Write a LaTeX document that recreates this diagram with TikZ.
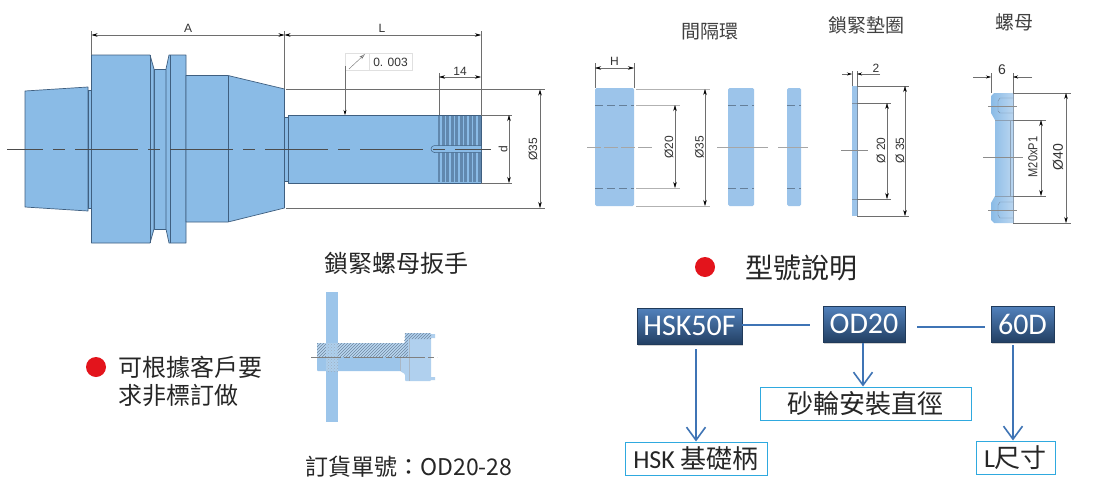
\documentclass[tikz,border=0pt]{standalone}
\usepackage{fontspec}
\setmainfont{Liberation Sans}
\newfontfamily\cjkfont{Noto Sans CJK TC}
\newfontfamily\carlito{Carlito}
\usetikzlibrary{arrows.meta,patterns,shadows}
\definecolor{bodyblue}{HTML}{8ABBE6}
\definecolor{ringblue}{HTML}{9CC4EA}
\definecolor{edgeblue}{HTML}{3F5F80}
\definecolor{flowblue}{HTML}{3F74B5}
\definecolor{cyanbox}{HTML}{2FA9DF}
\definecolor{dimgrey}{HTML}{6E6E6E}
\definecolor{dotred}{HTML}{E3141C}
\tikzset{
	part/.style={fill=bodyblue,draw=edgeblue,line width=0.7pt,line join=round},
	ring/.style={fill=ringblue,draw=none,rounded corners=1.5pt},
	inner/.style={draw=edgeblue,line width=0.5pt},
	centre/.style={draw=black!70,line width=0.5pt,dash pattern=on 63pt off 10pt on 12pt off 10pt,dash phase=27pt},
	hidden/.style={draw=edgeblue!80,line width=0.5pt,dash pattern=on 8pt off 4pt},
	ext/.style={draw=dimgrey,line width=0.5pt},
	dimen/.style={draw=dimgrey,line width=0.5pt,{Stealth[black,length=6pt,width=3.5pt]}-{Stealth[black,length=6pt,width=3.5pt]}},
	oneway/.style={draw=dimgrey,line width=0.4pt,-{Stealth[black,length=5pt,width=3pt]}},
	dimtxt/.style={font=\fontsize{12}{14}\selectfont,text=black!80,inner sep=0},
	title/.style={font=\cjkfont\fontsize{19}{22}\selectfont,text=black!75,inner sep=0},
	note/.style={font=\cjkfont\fontsize{24}{28}\selectfont,text=black!85,inner sep=0},
	modelbox/.style={font=\carlito\fontsize{30}{34}\selectfont,text=white,inner sep=0,
		top color=flowblue!90!white,bottom color=flowblue!55!black,draw=flowblue!50!black,
		drop shadow={shadow xshift=1pt,shadow yshift=-2pt,fill=black!35}},
	meanbox/.style={draw=cyanbox,line width=1pt,fill=white,inner sep=0,text=black!85,
		font=\cjkfont\fontsize{26}{30}\selectfont},
	flow/.style={draw=flowblue,line width=1.6pt},
	flowarrow/.style={flow,-{Straight Barb[length=13pt,width=19pt,line width=1.6pt]}}
}
\begin{document}
\begin{tikzpicture}[x=1pt,y=-1pt]
\useasboundingbox[fill=white] (0,0) rectangle (1100,490);

\draw[part] (25,91) -- (88,87) -- (88,211) -- (25,207) -- cycle;
\draw[part] (88,90) rectangle (91.5,208);
\draw[part] (154,69) rectangle (166,229);
\draw[part] (91.5,55) -- (150,55) -- (154,69) -- (154,229) -- (150,243) -- (91.5,243) -- cycle;
\draw[part] (169,55) -- (186,55) -- (186,243) -- (169,243) -- (166,229) -- (166,69) -- cycle;
\draw[part] (186,75.5) -- (228,75.5) -- (284.5,89) -- (284.5,208) -- (228,222) -- (186,222) -- cycle;
\draw[part] (284.5,117) rectangle (288,181);
\draw[part] (288,115) rectangle (481,183);
\draw[inner] (150,55) -- (150,243) (170,55) -- (170,243) (228,75.5) -- (228,222);
\fill[edgeblue!55!bodyblue] (438,116) rectangle (481,182);
\foreach \kx in {441,445.5,...,479}
	\draw[bodyblue,line width=1.8pt] (\kx,116) -- (\kx,182);
\draw[fill=bodyblue,draw=edgeblue,line width=0.5pt,rounded corners=3.5pt] (481,145.5) -- (431,145.5) -- (431,152.5) -- (481,152.5);
\draw[centre] (7,149) -- (491,149);

\draw[ext] (91.5,31) -- (91.5,55) (284.5,31) -- (284.5,89) (481,31) -- (481,115) (439,73) -- (439,115);
\draw[ext] (286,89.5) -- (545,89.5) (286,208) -- (545,208) (481,115) -- (512,115) (481,183) -- (512,183);
\draw[dimen] (91.5,35) -- (284.5,35);
\draw[dimen] (284.5,35) -- (481,35);
\draw[dimen] (439,77) -- (481,77);
\draw[dimen] (509,115) -- (509,183);
\draw[dimen] (540,89.5) -- (540,208);
\node[dimtxt] (dimA) at (188,28) {A};
\node[dimtxt] (dimL) at (382,28) {L};
\node[dimtxt] (dim14) at (460,71) {14};
\node[dimtxt,rotate=90] (dimd) at (503,149) {d};
\node[dimtxt,rotate=90] (dimshank) at (533,149) {Ø35};
\draw[black!12,fill=white] (345,53) rectangle (412,70);
\draw[black!12] (369,53) -- (369,70);
\draw[dimgrey,line width=0.4pt,-{Stealth[open,length=6pt,width=3.5pt]}] (349,69) -- (365,54);
\node[dimtxt] (runout) at (390.5,62) {0. 003};
\draw[oneway,line width=0.5pt] (345,66) -- (345,115);

\node[ring,minimum width=39pt,minimum height=118pt] (ringa) at (614.5,147) {};
\node[ring,minimum width=26pt,minimum height=118pt] (ringb) at (741,147) {};
\node[ring,minimum width=14pt,minimum height=118pt] (ringc) at (794,147) {};
\foreach \ry in {105,188} {
	\draw[hidden] (595,\ry) -- (634,\ry);
	\draw[hidden] (728,\ry) -- (754,\ry);
	\draw[hidden] (787,\ry) -- (801,\ry);
}
\draw[black!35,line width=0.5pt,dash pattern=on 14pt off 3pt] (587,147) -- (655,147);
\draw[black!35,line width=0.5pt] (717,147) -- (768,147) (778,147) -- (808,147);
\draw[ext] (595,63) -- (595,88) (634,63) -- (634,88);
\draw[ext,black!30] (636,89) -- (710,89) (636,206) -- (710,206) (636,105) -- (680,105) (636,188) -- (680,188);
\draw[dimen] (595,68) -- (634,68);
\draw[dimen] (675,105) -- (675,188);
\draw[dimen] (705,89) -- (705,206);
\node[dimtxt] (dimH) at (614.5,61.5) {H};
\node[dimtxt,rotate=90] (dimbore) at (669,147) {Ø20};
\node[dimtxt,rotate=90] (dimouter) at (699.5,147) {Ø35};
\node[title] (spacer) at (710,32) {間隔環};

\fill[ringblue] (852,86) rectangle (857,216);
\draw[edgeblue!70,line width=0.4pt] (857,86) -- (857,216) (852,103) -- (857,103) (852,199) -- (857,199);
\draw[black!45,line width=0.4pt] (841,150.5) -- (868,150.5);
\draw[ext,line width=0.4pt] (852,71) -- (852,86) (857,71) -- (857,86) (857,86) -- (909,86) (857,216) -- (909,216) (857,103) -- (891,103) (857,199) -- (891,199);
\draw[oneway] (842,74) -- (852,74);
\draw[oneway] (880,74) -- (857,74);
\draw[dimen,line width=0.4pt] (887,103) -- (887,199);
\draw[dimen,line width=0.4pt] (905,86) -- (905,216);
\node[dimtxt] (dimtwo) at (876,68) {2};
\node[dimtxt,rotate=90] (dimwbore) at (881,150.5) {Ø 20};
\node[dimtxt,rotate=90] (dimwouter) at (900,150.5) {Ø 35};
\node[title] (washer) at (866,25) {鎖緊墊圈};

\shade[left color=bodyblue,right color=ringblue!70] (1013,93) -- (994,93) -- (991,96) -- (991,113) -- (995,120) -- (995,196) -- (991,203) -- (991,220) -- (994,223) -- (1013,223) -- cycle;
\draw[edgeblue!60,line width=0.4pt] (1013,93) -- (1013,223) (995,120) -- (1013,120) (995,196) -- (1013,196) (1010,120) -- (1010,196);
\draw[edgeblue!70,line width=0.4pt] (1013,98) -- (1000,98) -- (998,101) -- (998,111) -- (1000,113) -- (1013,113);
\draw[edgeblue!70,line width=0.4pt] (1013,202) -- (1000,202) -- (998,205) -- (998,215) -- (1000,218) -- (1013,218);
\draw[black!45,line width=0.4pt] (988,106) -- (1017,106) (988,210) -- (1017,210) (983,157) -- (1023,157);
\draw[ext,line width=0.4pt] (991,73) -- (991,93) (1013,73) -- (1013,93) (1013,93) -- (1071,93) (1013,223) -- (1071,223) (1013,120) -- (1046,120) (1013,196) -- (1046,196);
\draw[oneway] (973,77) -- (991,77);
\draw[oneway] (1032,77) -- (1013,77);
\draw[dimen] (1041,120) -- (1041,196);
\draw[dimen] (1066,93) -- (1066,223);
\node[dimtxt,font=\fontsize{14}{16}\selectfont] (dimsix) at (1002,70) {6};
\node[dimtxt,rotate=90,font=\fontsize{13}{15}\selectfont,xscale=0.85] (dimthread) at (1033,157) {M20xP1};
\node[dimtxt,rotate=90,font=\fontsize{14}{16}\selectfont] (dimnut) at (1058,157) {Ø40};
\node[title] (nut) at (1014,22) {螺母};

\fill[bodyblue!85,rounded corners=1pt] (317,343) rectangle (407,371);
\fill[ringblue!80,rounded corners=1pt] (405,333) -- (431,333) -- (431,381) -- (405,381) -- (405,374) -- (400,371) -- (400,343) -- (405,343) -- cycle;
\fill[ringblue!80] (431,334) rectangle (435,338) (431,377) rectangle (435,380);
\fill[bodyblue!85] (326,292) rectangle (338,422);
\fill[bodyblue!60] (317,343) rectangle (404,357);
\fill[pattern=north east lines,pattern color=edgeblue!75] (317,343) -- (404,343) -- (405,333) -- (431,333) -- (431,339) -- (408,339) -- (408,357) -- (317,357) -- cycle;
\fill[bodyblue!70] (326,343) rectangle (338,371);
\fill[pattern=crosshatch dots,pattern color=white!50!edgeblue] (326,343) rectangle (338,371);
\draw[edgeblue!45,line width=0.4pt] (400,357) -- (400,371) (409,339) -- (409,381);
\draw[draw=black!50,line width=0.4pt,dash pattern=on 30pt off 3pt on 6pt off 3pt] (311,357) -- (437,357);

\node[note] (wrench) at (396.5,263) {鎖緊螺母扳手};
\fill[dotred] (96,367) circle (10);
\node[note,anchor=west,align=left] (custom) at (118,381) {可根據客戶要\\求非標訂做};
\node[note,font=\cjkfont\fontsize{23}{27}\selectfont] (order) at (409,467) {訂貨單號：OD20-28};

\fill[dotred] (705,267) circle (10);
\node[note,font=\cjkfont\fontsize{28}{32}\selectfont] (model) at (801,268) {型號說明};

\node[modelbox,minimum width=105pt,minimum height=36pt] (hsk) at (689.5,326) {HSK50F};
\node[modelbox,minimum width=82pt,minimum height=36pt] (wheel) at (864,324) {OD20};
\node[modelbox,minimum width=63pt,minimum height=36pt] (len) at (1022.5,324) {60D};
\node[meanbox,minimum width=142pt,minimum height=33pt] (hskmean) at (696,458.5) {{\carlito HSK} 基礎柄};
\node[meanbox,minimum width=211pt,minimum height=33pt] (wheelmean) at (865.5,403.5) {砂輪安裝直徑};
\node[meanbox,minimum width=79pt,minimum height=33pt] (lenmean) at (1015.5,457.5) {{\carlito L}尺寸};

\coordinate (hskend) at (810,325);
\coordinate (wheelstart) at (917,327);
\coordinate (lenend) at (985,327);
\coordinate (hskdrop) at (696,349);
\coordinate (wheeldrop) at (863,343);
\coordinate (lendrop) at (1013,345);
\draw[flow] (hsk.east |- hskend) -- (hskend);
\draw[flow] (wheelstart) -- (lenend);
\draw[flowarrow] (hskdrop) -- (hskdrop |- hskmean.north);
\draw[flowarrow] (wheeldrop) -- (wheeldrop |- wheelmean.north);
\draw[flowarrow] (lendrop) -- (lendrop |- lenmean.north);
\end{tikzpicture}
\end{document}
